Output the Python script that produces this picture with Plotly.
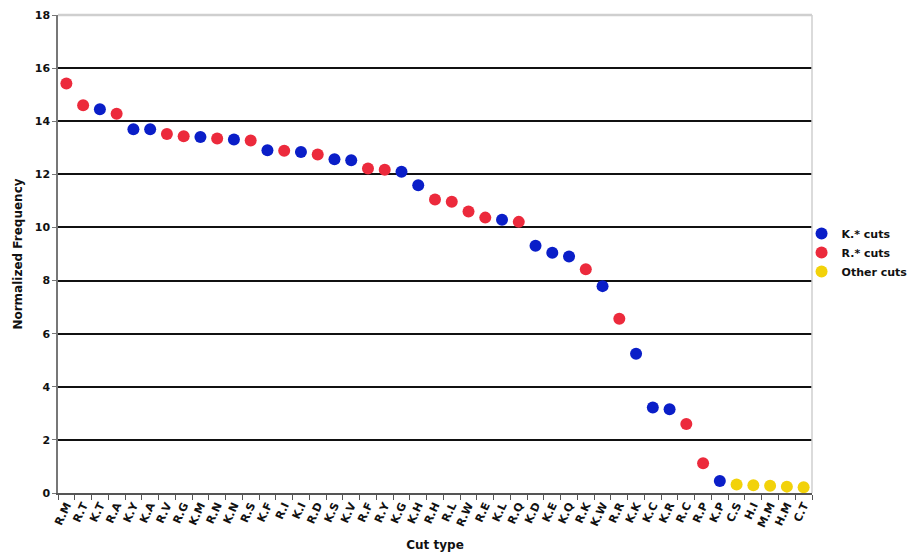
import plotly.graph_objects as go

categories = ["R.M", "R.T", "K.T", "R.A", "K.Y", "K.A", "R.V", "R.G", "K.M", "R.N",
              "K.N", "R.S", "K.F", "R.I", "K.I", "R.D", "K.S", "K.V", "R.F", "R.Y",
              "K.G", "K.H", "R.H", "R.L", "R.W", "R.E", "K.L", "R.Q", "K.D", "K.E",
              "K.Q", "R.K", "K.W", "R.R", "K.K", "K.C", "K.R", "R.C", "R.P", "K.P",
              "C.S", "H.I", "M.M", "H.M", "C.T"]
values = [15.42, 14.60, 14.45, 14.28, 13.70, 13.70, 13.52, 13.43, 13.41, 13.35,
          13.31, 13.27, 12.91, 12.89, 12.84, 12.75, 12.57, 12.53, 12.22, 12.17,
          12.10, 11.59, 11.05, 10.97, 10.60, 10.37, 10.29, 10.21, 9.31, 9.05,
          8.91, 8.43, 7.79, 6.56, 5.24, 3.22, 3.15, 2.60, 1.12, 0.45,
          0.32, 0.29, 0.27, 0.24, 0.22]
groups = ["K.* cuts", "R.* cuts", "Other cuts"]
colors = {"K.* cuts": "#0a1ec8", "R.* cuts": "#ec2a3c", "Other cuts": "#f2d20a"}


def group_of(c):
    if c.startswith("K."):
        return "K.* cuts"
    if c.startswith("R."):
        return "R.* cuts"
    return "Other cuts"


fig = go.Figure()
for g in groups:
    xs = [c for c in categories if group_of(c) == g]
    ys = [v for c, v in zip(categories, values) if group_of(c) == g]
    fig.add_trace(go.Scatter(x=xs, y=ys, mode="markers", name=g,
                             marker=dict(color=colors[g], size=12, line=dict(width=0))))

# page body has an 8px margin, so the figure is sized/offset to compensate
fig.update_layout(
    width=909, height=548,
    margin=dict(l=50, r=105, t=7, b=63, autoexpand=False),
    paper_bgcolor="white", plot_bgcolor="white",
    font=dict(family="DejaVu Sans", color="#111"),
    legend=dict(xref="container", yref="container", x=0.873, y=0.615,
                xanchor="left", yanchor="top", bgcolor="rgba(0,0,0,0)",
                font=dict(size=11, family="DejaVu Sans", weight="bold"),
                itemsizing="constant", tracegroupgap=0, itemwidth=30),
    showlegend=True,
)
fig.update_xaxes(
    type="category", categoryorder="array", categoryarray=categories,
    tickangle=-65, tickfont=dict(size=11, family="DejaVu Sans", weight="bold"),
    showgrid=False, showline=True, linecolor="#555", linewidth=1.5,
    ticks="outside", ticklen=5, tickcolor="#555", tickson="boundaries",
    title=dict(text="<b>Cut type</b>", font=dict(size=12), standoff=12),
    range=[-0.5, len(categories) - 0.5], automargin=False,
)
fig.update_yaxes(
    range=[0, 18], tickvals=list(range(0, 19, 2)),
    tickfont=dict(size=11, family="DejaVu Sans", weight="bold"),
    showgrid=True, gridcolor="#111", gridwidth=1.5,
    showline=True, linecolor="#777", linewidth=1.5,
    ticks="outside", ticklen=4, tickcolor="#777",
    zeroline=False, automargin=False,
    title=dict(text="<b>Normalized Frequency</b>", font=dict(size=12), standoff=10),
)
fig.add_shape(type="line", xref="paper", yref="paper", x0=0, x1=1, y0=1, y1=1,
              line=dict(color="#cfcfcf", width=2.5), layer="above")
fig.add_shape(type="line", xref="paper", yref="paper", x0=1, x1=1, y0=0, y1=1,
              line=dict(color="#cfcfcf", width=1.5), layer="above")

fig.write_html("out.html")
